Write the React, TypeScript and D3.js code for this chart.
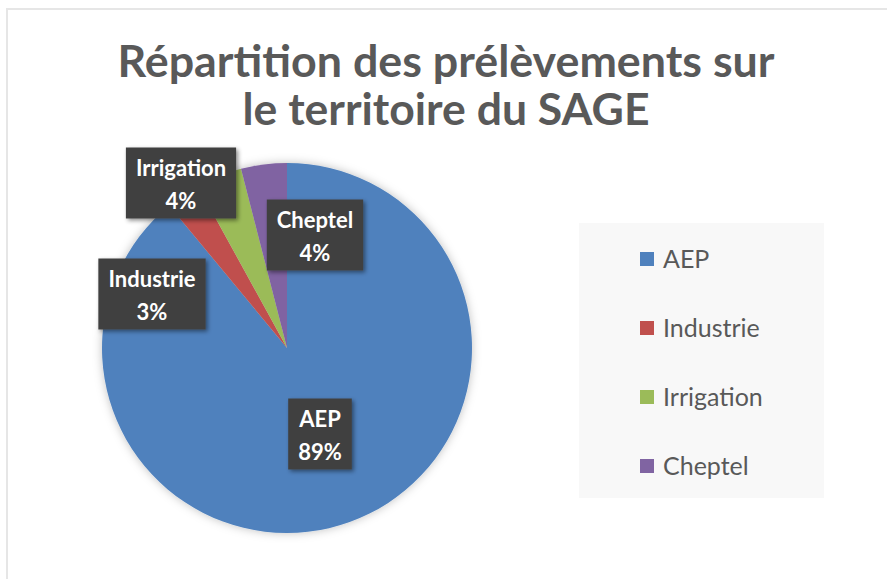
import React, { useEffect, useRef } from 'react';
import * as d3 from 'd3';

const categories = ['AEP', 'Industrie', 'Irrigation', 'Cheptel'];
const values = [89, 3, 4, 4];
const colors = ['#4f81bd', '#c0504d', '#9bbb59', '#8064a2'];
const titleLines = ['Répartition des prélèvements sur', 'le territoire du SAGE'];

// where Excel's "best fit" put each data label, relative to the pie centre
const labelOffsets: [number, number][] = [
  [33, 86],
  [-135, -54],
  [-106, -165],
  [28, -113],
];

const W = 887;
const H = 579;
const FONT = 'Lato, "Open Sans", sans-serif';

export default function App() {
  const svgRef = useRef<SVGSVGElement>(null);

  useEffect(() => {
    if (!svgRef.current) return;
    const svg = d3.select(svgRef.current);
    svg.selectAll('*').remove();
    svg.attr('width', W).attr('height', H);

    const defs = svg.append('defs');
    const shadow = defs.append('filter').attr('id', 'lblShadow')
      .attr('x', '-20%').attr('y', '-20%').attr('width', '150%').attr('height', '150%');
    shadow.append('feDropShadow')
      .attr('dx', 2).attr('dy', 2).attr('stdDeviation', 2)
      .attr('flood-color', '#000').attr('flood-opacity', 0.45);
    const glow = defs.append('filter').attr('id', 'pieGlow')
      .attr('x', '-10%').attr('y', '-10%').attr('width', '120%').attr('height', '120%');
    glow.append('feDropShadow')
      .attr('dx', 0).attr('dy', 0).attr('stdDeviation', 5)
      .attr('flood-color', '#000').attr('flood-opacity', 0.25);

    svg.append('rect').attr('width', W).attr('height', H).attr('fill', '#fff');
    // chart area border (runs off the right / bottom of the picture)
    svg.append('rect')
      .attr('x', 7).attr('y', 9).attr('width', W + 20).attr('height', H + 20)
      .attr('fill', 'none').attr('stroke', '#e6e6e6').attr('stroke-width', 2);

    // Title
    const titleWidths = [657, 407];
    titleLines.forEach((line, i) => {
      svg.append('text')
        .attr('x', 446).attr('y', 77 + i * 48)
        .attr('text-anchor', 'middle')
        .attr('textLength', titleWidths[i])
        .attr('lengthAdjust', 'spacingAndGlyphs')
        .style('font-family', FONT)
        .style('font-weight', 'bold')
        .style('font-size', '43px')
        .attr('fill', '#595959')
        .text(line);
    });

    // Pie
    const cx = 287;
    const cy = 348;
    const r = 185;
    const data = categories.map((c, i) => ({ name: c, value: values[i], color: colors[i] }));
    const pie = d3.pie<any>().value(d => d.value).sort(null);
    const arc = d3.arc<any>().innerRadius(0).outerRadius(r);
    const arcs = pie(data);
    const g = svg.append('g').attr('transform', `translate(${cx},${cy})`);
    g.append('g').attr('filter', 'url(#pieGlow)')
      .selectAll('path')
      .data(arcs)
      .enter()
      .append('path')
      .attr('d', arc)
      .attr('fill', d => d.data.color);

    // Data labels
    const total = d3.sum(values);
    arcs.forEach((a, i) => {
      const [dx, dy] = labelOffsets[i];
      const lg = g.append('g').attr('transform', `translate(${dx},${dy})`);
      const box = lg.append('rect').attr('fill', '#404040').attr('filter', 'url(#lblShadow)');
      const t = lg.append('text')
        .attr('text-anchor', 'middle')
        .style('font-family', FONT)
        .style('font-weight', 'bold')
        .style('font-size', '22px')
        .attr('fill', '#fff');
      t.append('tspan').attr('x', 0).attr('y', -7).text(a.data.name);
      t.append('tspan').attr('x', 0).attr('y', 26)
        .text(`${Math.round((a.data.value / total) * 100)}%`);
      const bb = (t.node() as SVGTextElement).getBBox();
      const padX = 10;
      const bw = bb.width + padX * 2;
      const bh = 71;
      box.attr('x', -bw / 2).attr('y', -bh / 2).attr('width', bw).attr('height', bh);
    });

    // Legend
    const legend = svg.append('g');
    legend.append('rect')
      .attr('x', 579).attr('y', 223).attr('width', 245).attr('height', 275)
      .attr('fill', '#f8f8f8');
    const ly = d3.scalePoint<string>().domain(categories).range([259, 466]);
    categories.forEach((c, i) => {
      const y = ly(c)!;
      legend.append('rect')
        .attr('x', 640).attr('y', y - 7).attr('width', 14).attr('height', 14)
        .attr('fill', colors[i]);
      legend.append('text')
        .attr('x', 663).attr('y', y + 9)
        .style('font-family', FONT)
        .style('font-size', '25px')
        .attr('fill', '#595959')
        .text(c);
    });
  }, []);

  return (
    <div style={{ position: 'absolute', left: 0, top: 0 }}>
      <svg ref={svgRef} style={{ display: 'block' }} />
    </div>
  );
}
